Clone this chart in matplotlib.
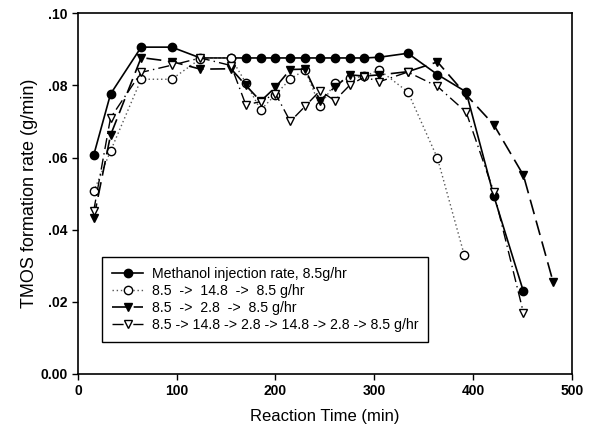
# TMOS formation rate vs reaction time for different methanol injection schedules
import numpy as np
import matplotlib
matplotlib.use('Agg')
import matplotlib.pyplot as plt
from matplotlib.ticker import FuncFormatter

plt.rcParams['font.family'] = ['Liberation Sans', 'DejaVu Sans']

# Data (min, g/min)
t_const = [16, 33, 64, 95, 124, 155, 170, 185, 200, 215, 230, 245, 260, 275, 290, 305,
           334, 364, 393, 421, 451]
r_const = [0.0607, 0.0776, 0.0906, 0.0906, 0.0876, 0.0876, 0.0876, 0.0876, 0.0876, 0.0876,
           0.0876, 0.0876, 0.0876, 0.0876, 0.0876, 0.0878, 0.0889, 0.0830, 0.0782, 0.0494, 0.0229]

t_high = [16, 33, 64, 95, 124, 155, 170, 185, 200, 215, 230, 245, 260, 275, 290, 305,
          334, 364, 391]
r_high = [0.0506, 0.0618, 0.0817, 0.0817, 0.0874, 0.0876, 0.0807, 0.0732, 0.0774, 0.0818,
          0.0843, 0.0742, 0.0806, 0.0820, 0.0825, 0.0843, 0.0782, 0.0598, 0.0331]

t_low = [16, 33, 64, 95, 124, 155, 170, 185, 200, 215, 230, 245, 260, 275, 290, 305,
         334, 364, 393, 421, 451, 481]
r_low = [0.0432, 0.0662, 0.0877, 0.0866, 0.0845, 0.0846, 0.0800, 0.0756, 0.0795, 0.0844,
         0.0845, 0.0758, 0.0795, 0.0829, 0.0826, 0.0829, 0.0838, 0.0865, 0.0774, 0.0691,
         0.0551, 0.0256]

t_mix = [16, 33, 64, 95, 124, 155, 170, 185, 200, 215, 230, 245, 260, 275, 290, 305,
         334, 364, 393, 421, 451]
r_mix = [0.0453, 0.0710, 0.0836, 0.0856, 0.0876, 0.0855, 0.0746, 0.0755, 0.0777, 0.0700,
         0.0742, 0.0785, 0.0758, 0.0800, 0.0824, 0.0810, 0.0837, 0.0797, 0.0726, 0.0505,
         0.0170]

labels = ['Methanol injection rate, 8.5g/hr',
          '8.5  ->  14.8  ->  8.5 g/hr',
          '8.5  ->  2.8  ->  8.5 g/hr',
          '8.5 -> 14.8 -> 2.8 -> 14.8 -> 2.8 -> 8.5 g/hr']

fig = plt.figure(figsize=(5.95, 4.41), dpi=100)
ax = fig.add_axes([0.131, 0.152, 0.830, 0.818])

ms = 6
ax.plot(t_const, r_const, color='black', linestyle='-', linewidth=1.2,
        marker='o', markersize=ms, markerfacecolor='black', label=labels[0])
ax.plot(t_high, r_high, color='#555555', linestyle=(0, (1, 2)), linewidth=1.0,
        marker='o', markersize=ms, markerfacecolor='white', markeredgecolor='black',
        label=labels[1])
ax.plot(t_low, r_low, color='black', linestyle=(0, (9, 4)), linewidth=1.2,
        marker='v', markersize=ms, markerfacecolor='black', label=labels[2])
ax.plot(t_mix, r_mix, color='black', linestyle=(0, (8, 3, 1, 3)), linewidth=1.0,
        marker='v', markersize=ms, markerfacecolor='white', markeredgecolor='black',
        label=labels[3])

ax.set_xlim(0, 500)
ax.set_ylim(0, 0.10)
ax.set_xticks(np.arange(0, 501, 100))
ax.set_yticks(np.arange(0, 0.101, 0.02))


def yfmt(v, pos):
    if abs(v) < 1e-9:
        return '0.00'
    return ('%.2f' % v)[1:]


ax.yaxis.set_major_formatter(FuncFormatter(yfmt))
ax.tick_params(direction='out', length=4, width=1, labelsize=10)
for lab in ax.get_xticklabels() + ax.get_yticklabels():
    lab.set_fontweight('bold')
for sp in ax.spines.values():
    sp.set_linewidth(1.2)

ax.set_xlabel('Reaction Time (min)', fontsize=12, labelpad=8)
ax.set_ylabel('TMOS formation rate (g/min)', fontsize=13, labelpad=2)

leg = ax.legend(loc='lower left', bbox_to_anchor=(0.035, 0.068), fontsize=10.2,
                frameon=True, fancybox=False, edgecolor='black', framealpha=1,
                handlelength=2.2, borderpad=0.7, labelspacing=0.22, handletextpad=0.6)
leg.get_frame().set_linewidth(1.0)

fig.savefig('out.png', dpi=100)
